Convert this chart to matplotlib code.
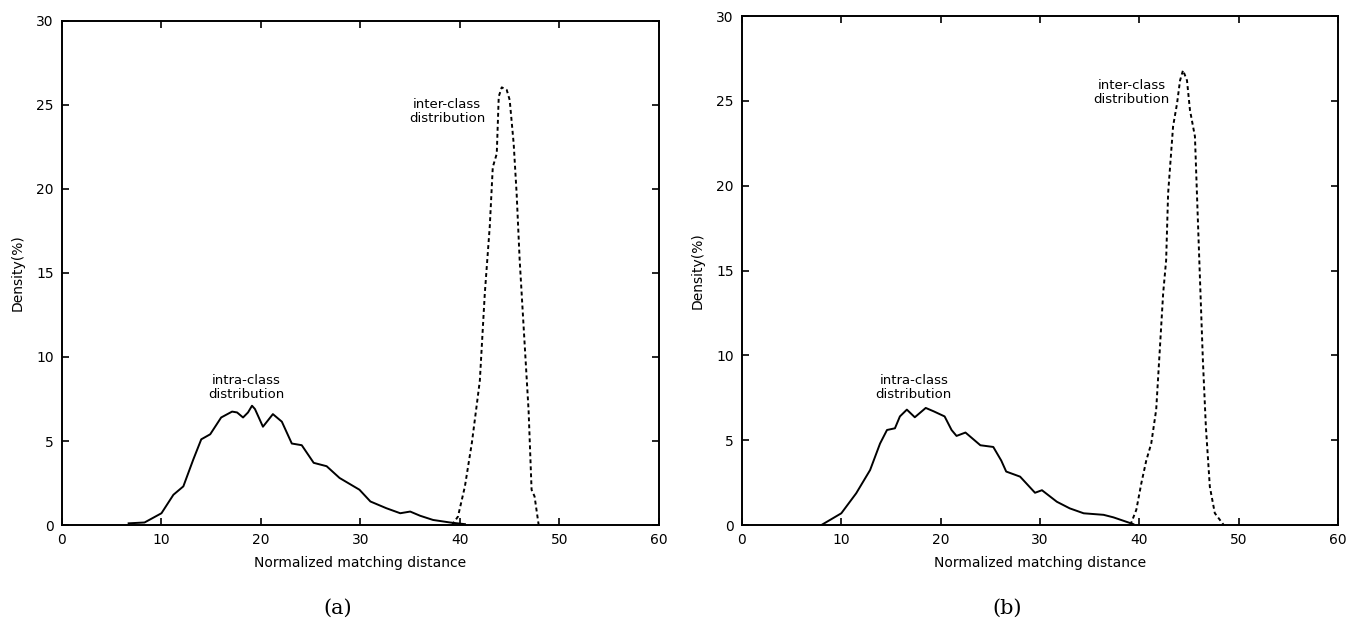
import matplotlib
matplotlib.use('Agg')
import matplotlib.pyplot as plt

# panel (a)
A_INTRA_X = [6.7, 8.3, 10.0, 11.2, 12.2, 13.2, 14.0, 14.9, 16.0, 17.1, 17.6, 18.2, 18.7,
             19.1, 19.4, 20.2, 21.2, 22.1, 23.1, 24.1, 25.3, 26.6, 27.9, 29.9, 31.0,
             32.6, 34.0, 35.0, 36.0, 37.3, 39.0, 40.5]
A_INTRA_Y = [0.1, 0.15, 0.7, 1.8, 2.3, 3.9, 5.1, 5.4, 6.4, 6.75, 6.7, 6.4, 6.7,
             7.1, 6.9, 5.85, 6.6, 6.15, 4.85, 4.75, 3.7, 3.5, 2.8, 2.1, 1.4,
             1.0, 0.7, 0.8, 0.55, 0.3, 0.15, 0.05]
A_INTER_X = [39.2, 39.8, 40.5, 41.2, 41.7, 42.0, 42.5, 43.0, 43.3, 43.7, 43.9, 44.2,
             44.7, 45.0, 45.4, 45.7, 46.0, 46.5, 46.9, 47.2, 47.5, 47.9]
A_INTER_Y = [0.0, 0.5, 2.3, 4.9, 7.2, 8.6, 13.8, 17.8, 21.3, 22.1, 25.5, 26.05,
             25.9, 25.3, 22.7, 19.7, 15.8, 10.8, 6.8, 2.1, 1.7, 0.05]

# panel (b)
B_INTRA_X = [8.0, 10.0, 11.5, 12.9, 13.9, 14.6, 15.4, 15.9, 16.6, 17.4, 17.9, 18.5,
             19.3, 20.4, 21.1, 21.6, 22.5, 24.0, 25.3, 26.1, 26.6, 28.0, 29.5, 30.2,
             31.7, 33.0, 34.4, 36.4, 37.4, 38.4, 39.4]
B_INTRA_Y = [0.0, 0.69, 1.87, 3.24, 4.8, 5.6, 5.7, 6.4, 6.8, 6.35, 6.6, 6.9,
             6.7, 6.4, 5.6, 5.25, 5.45, 4.7, 4.6, 3.8, 3.15, 2.85, 1.9, 2.05,
             1.37, 0.98, 0.69, 0.6, 0.45, 0.25, 0.05]
B_INTER_X = [39.1, 39.7, 40.2, 40.7, 41.2, 41.7, 42.1, 42.4, 42.7, 42.9, 43.4, 43.8,
             44.1, 44.4, 44.8, 45.1, 45.6, 45.8, 46.1, 46.4, 46.7, 47.1, 47.6, 48.5]
B_INTER_Y = [0.0, 0.9, 2.45, 3.8, 4.8, 6.8, 10.7, 13.65, 15.6, 19.55, 23.5, 24.85,
             26.2, 26.8, 26.2, 24.45, 22.9, 19.55, 14.6, 9.7, 5.8, 2.25, 0.7, 0.0]

XTICKS = [0, 10, 20, 30, 40, 50, 60]
YTICKS = [0, 5, 10, 15, 20, 25, 30]

plt.rcParams['font.family'] = 'DejaVu Sans'

fig = plt.figure(figsize=(13.5, 6.23), dpi=100)
ax_a = fig.add_axes([0.0459, 0.1573, 0.4422, 0.809])
ax_b = fig.add_axes([0.5496, 0.1573, 0.4415, 0.817])

PANELS = [
    (ax_a, A_INTRA_X, A_INTRA_Y, A_INTER_X, A_INTER_Y, (18.5, 7.4), (38.7, 23.8), '(a)', 0.462),
    (ax_b, B_INTRA_X, B_INTRA_Y, B_INTER_X, B_INTER_Y, (17.3, 7.3), (39.2, 24.7), '(b)', 0.445),
]

for ax, ix, iy, ex, ey, intra_pos, inter_pos, tag, tagx in PANELS:
    ax.plot(ix, iy, color='black', lw=1.4)
    ax.plot(ex, ey, color='black', lw=1.4, ls=(0, (2, 1.6)))
    ax.set_xlim(0, 60)
    ax.set_ylim(0, 30)
    ax.set_xticks(XTICKS)
    ax.set_yticks(YTICKS)
    ax.tick_params(direction='in', length=5, width=1.2, top=True, right=True,
                   labelsize=10, pad=6)
    for s in ax.spines.values():
        s.set_linewidth(1.4)
    ax.set_xlabel('Normalized matching distance', fontsize=10, labelpad=6)
    ax.set_ylabel('Density(%)', fontsize=10, labelpad=8)
    ax.text(intra_pos[0], intra_pos[1], 'intra-class\ndistribution', ha='center',
            va='bottom', fontsize=9.5, linespacing=1.1)
    ax.text(inter_pos[0], inter_pos[1], 'inter-class\ndistribution', ha='center',
            va='bottom', fontsize=9.5, linespacing=1.1)
    pos = ax.get_position()
    fig.text(pos.x0 + tagx * pos.width, 0.024, tag, ha='center', va='center',
             fontsize=15, family='DejaVu Serif')

fig.savefig('out.png', dpi=100)
